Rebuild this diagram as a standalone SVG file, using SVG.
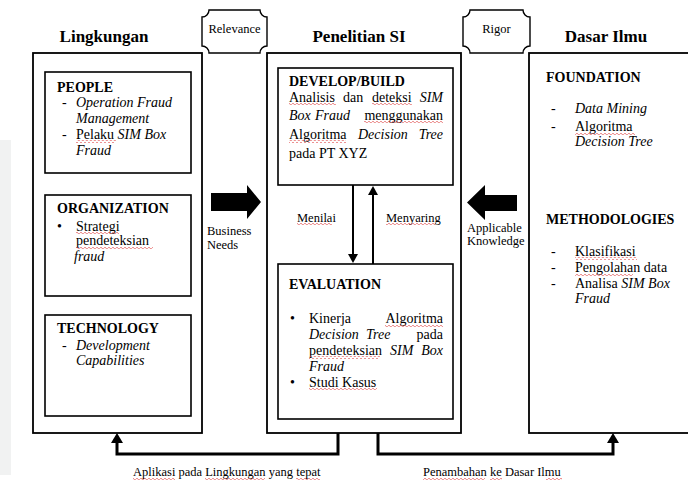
<svg xmlns="http://www.w3.org/2000/svg" width="688" height="485" viewBox="0 0 688 485" font-family="'Liberation Serif', 'DejaVu Serif', serif">
<style>
text{font-family:'Liberation Serif','DejaVu Serif',serif;fill:#000}
.title{font-size:17px;font-weight:bold}
.h{font-size:14px;font-weight:bold}
.b{font-size:14px}
.i{font-style:italic}
.s{font-size:12.5px}
.box{fill:#fff;stroke:#000;stroke-width:1.6}
.outer{fill:#fff;stroke:#000;stroke-width:1.8}
.plaque{fill:#fff;stroke:#000;stroke-width:1.4}
.conn{fill:none;stroke:#000;stroke-width:3}
.thin{fill:none;stroke:#000;stroke-width:2}
.sq{fill:url(#wave)}
</style>
<defs>
<pattern id="wave" width="4" height="3" patternUnits="userSpaceOnUse">
<path d="M0 2.2 Q1 0.2 2 2.2 T4 2.2" fill="none" stroke="#e04848" stroke-width="0.8"/>
</pattern>
</defs>
<rect width="688" height="485" fill="#fff"/>
<rect x="0" y="140" width="11" height="335" fill="#f1f2f2"/>

<text class="title" x="104" y="42" text-anchor="middle">Lingkungan</text>
<text class="title" x="359" y="42" text-anchor="middle">Penelitian SI</text>
<text class="title" x="606" y="42" text-anchor="middle">Dasar Ilmu</text>

<g id="relevance">
<path class="plaque" d="M209 10 H260 A7 7 0 0 0 267 17 V46 A7 7 0 0 0 260 53 H209 A7 7 0 0 0 202 46 V17 A7 7 0 0 0 209 10 Z"/>
<text class="s" x="234.5" y="33" text-anchor="middle">Relevance</text>
</g>
<g id="rigor">
<path class="plaque" d="M470 10 H523 A7 7 0 0 0 530 17 V46 A7 7 0 0 0 523 53 H470 A7 7 0 0 0 463 46 V17 A7 7 0 0 0 470 10 Z"/>
<text class="s" x="496.5" y="33" text-anchor="middle">Rigor</text>
</g>

<g id="lingkungan">
<rect class="outer" x="33" y="53" width="169" height="380"/>
</g>
<g id="people">
<rect class="box" x="45" y="72" width="146" height="101"/>
<text class="h" x="57" y="92">PEOPLE</text>
<text class="b" x="62" y="107">-</text>
<text class="b i" x="76" y="107">Operation Fraud</text>
<text class="b i" x="76" y="123">Management</text>
<text class="b" x="62" y="139">-</text>
<text class="b" x="76" y="139">Pelaku <tspan class="i">SIM Box</tspan></text>
<text class="b i" x="76" y="155">Fraud</text>
<rect class="sq" x="76" y="140" width="40" height="3"/>
</g>
<g id="organization">
<rect class="box" x="45" y="195" width="146" height="101"/>
<text class="h" x="57" y="213">ORGANIZATION</text>
<text class="b" x="57" y="231">•</text>
<text class="b" x="76" y="231">Strategi</text>
<text class="b" x="76" y="245">pendeteksian</text>
<text class="b i" x="74" y="261">fraud</text>
<rect class="sq" x="76" y="232" width="43" height="3"/>
<rect class="sq" x="76" y="246" width="77" height="3"/>
</g>
<g id="technology">
<rect class="box" x="45" y="315" width="146" height="101"/>
<text class="h" x="57" y="333">TECHNOLOGY</text>
<text class="b" x="62" y="350">-</text>
<text class="b i" x="76" y="350">Development</text>
<text class="b i" x="76" y="365">Capabilities</text>
</g>

<g id="penelitian">
<rect class="outer" x="267" y="53" width="194" height="380"/>
</g>
<g id="develop">
<rect class="box" x="278" y="68" width="175" height="117"/>
<text class="h" x="289" y="86">DEVELOP/BUILD</text>
<text class="b" x="289" y="102">Analisis</text>
<text class="b" x="343" y="102">dan</text>
<text class="b" x="372" y="102">deteksi</text>
<text class="b i" x="443" y="102" text-anchor="end">SIM</text>
<text class="b i" x="289" y="120">Box</text>
<text class="b i" x="315" y="120">Fraud</text>
<text class="b" x="443" y="120" text-anchor="end">menggunakan</text>
<text class="b" x="289" y="139">Algoritma</text>
<text class="b i" x="358" y="139">Decision</text>
<text class="b i" x="443" y="139" text-anchor="end">Tree</text>
<text class="b" x="289" y="158">pada PT XYZ</text>
<rect class="sq" x="289" y="103" width="47" height="3"/>
<rect class="sq" x="372" y="103" width="40" height="3"/>
<rect class="sq" x="364" y="121" width="79" height="3"/>
<rect class="sq" x="289" y="140" width="57" height="3"/>
</g>
<g id="evaluation">
<rect class="box" x="278" y="264" width="175" height="155"/>
<text class="h" x="289" y="289">EVALUATION</text>
<text class="b" x="290" y="323">•</text>
<text class="b" x="309" y="323">Kinerja</text>
<text class="b" x="443" y="323" text-anchor="end">Algoritma</text>
<text class="b i" x="309" y="339">Decision</text>
<text class="b i" x="366" y="339">Tree</text>
<text class="b" x="443" y="339" text-anchor="end">pada</text>
<text class="b" x="309" y="355">pendeteksian</text>
<text class="b i" x="390" y="355">SIM</text>
<text class="b i" x="443" y="355" text-anchor="end">Box</text>
<text class="b i" x="309" y="371">Fraud</text>
<text class="b" x="290" y="387">•</text>
<text class="b" x="309" y="387">Studi Kasus</text>
<rect class="sq" x="385" y="324" width="58" height="3"/>
<rect class="sq" x="309" y="356" width="71" height="3"/>
<rect class="sq" x="309" y="388" width="68" height="3"/>
</g>

<g id="dasar-ilmu">
<rect class="outer" x="529" y="53" width="180" height="380"/>
<text class="h" x="546" y="82">FOUNDATION</text>
<text class="b" x="551" y="113">-</text>
<text class="b i" x="575" y="113">Data Mining</text>
<text class="b" x="551" y="131">-</text>
<text class="b" x="575" y="131">Algoritma</text>
<text class="b i" x="575" y="146">Decision Tree</text>
<text class="h" x="546" y="224">METHODOLOGIES</text>
<text class="b" x="551" y="256">-</text>
<text class="b" x="575" y="256">Klasifikasi</text>
<text class="b" x="551" y="272">-</text>
<text class="b" x="575" y="272">Pengolahan data</text>
<text class="b" x="551" y="288">-</text>
<text class="b" x="575" y="288">Analisa <tspan class="i">SIM Box</tspan></text>
<text class="b i" x="575" y="303">Fraud</text>
<rect class="sq" x="575" y="132" width="60" height="3"/>
<rect class="sq" x="575" y="257" width="62" height="3"/>
<rect class="sq" x="575" y="273" width="58" height="3"/>
</g>

<g id="connectors">
<path d="M211 193 H247 V185 L261 202 L247 219 V211 H211 Z" fill="#000"/>
<text class="s" x="207" y="235">Business</text>
<text class="s" x="207" y="249">Needs</text>
<path d="M517 195 H485 V185 L467 202.5 L485 220 V211 H517 Z" fill="#000"/>
<text class="s" x="467" y="232">Applicable</text>
<text class="s" x="467" y="245">Knowledge</text>
<line class="thin" x1="353" y1="185" x2="353" y2="255"/>
<path d="M348 254 H358 L353 263 Z" fill="#000"/>
<line class="thin" x1="373" y1="264" x2="373" y2="194"/>
<path d="M368 195 H378 L373 186 Z" fill="#000"/>
<text class="s" x="297" y="222">Menilai</text>
<text class="s" x="386" y="222">Menyaring</text>
<rect class="sq" x="297" y="223" width="35" height="3"/>
<rect class="sq" x="386" y="223" width="49" height="3"/>
<path class="conn" d="M338 433 V454 H117 V441"/>
<path d="M111 443 H123 L117 433 Z" fill="#000"/>
<path class="conn" d="M378 433 V454 H613 V441"/>
<path d="M607 443 H619 L613 433 Z" fill="#000"/>
<text class="s" x="133" y="476">Aplikasi pada Lingkungan yang tepat</text>
<text class="s" x="423" y="476">Penambahan ke Dasar Ilmu</text>
<rect class="sq" x="133" y="477" width="42" height="3"/>
<rect class="sq" x="205" y="477" width="60" height="3"/>
<rect class="sq" x="296" y="477" width="24" height="3"/>
<rect class="sq" x="423" y="477" width="62" height="3"/>
<rect class="sq" x="490" y="477" width="12" height="3"/>
<rect class="sq" x="546" y="477" width="16" height="3"/>
</g>
</svg>
